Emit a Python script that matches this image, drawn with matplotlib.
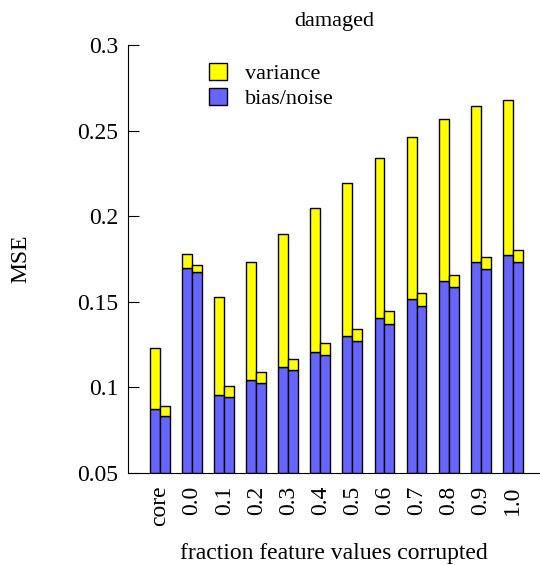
import numpy as np
import matplotlib.pyplot as plt
from matplotlib.patches import Patch

categories = ["core", "0.0", "0.1", "0.2", "0.3", "0.4", "0.5", "0.6", "0.7", "0.8", "0.9", "1.0"]

# left bar of each pair
left_bias = [0.0874, 0.170, 0.0954, 0.1041, 0.1119, 0.1208, 0.130, 0.1407, 0.1514, 0.1623, 0.173, 0.1775]
left_total = [0.1228, 0.178, 0.1528, 0.1732, 0.1896, 0.2048, 0.2192, 0.2338, 0.2464, 0.2566, 0.2645, 0.2679]
# right bar of each pair
right_bias = [0.0833, 0.1675, 0.0944, 0.1026, 0.1103, 0.1187, 0.1271, 0.137, 0.1474, 0.1584, 0.169, 0.173]
right_total = [0.0891, 0.1718, 0.1008, 0.109, 0.1168, 0.1257, 0.1339, 0.1444, 0.155, 0.1658, 0.176, 0.180]

plt.rcParams['font.family'] = ['Liberation Serif', 'DejaVu Serif']

fig = plt.figure(figsize=(5.4, 5.65), dpi=100)
ax = fig.add_axes([0.237, 0.163, 0.763, 0.757])

x = np.arange(len(categories))
w = 0.31
base = 0.05
yellow = "#ffff00"
blue = "#6666ff"

lb = np.array(left_bias)
rb = np.array(right_bias)
ax.bar(x - w / 2, lb - base, w, bottom=base, color=blue, edgecolor="black", linewidth=1)
ax.bar(x - w / 2, np.array(left_total) - lb, w, bottom=lb, color=yellow, edgecolor="black", linewidth=1)
ax.bar(x + w / 2, rb - base, w, bottom=base, color=blue, edgecolor="black", linewidth=1)
ax.bar(x + w / 2, np.array(right_total) - rb, w, bottom=rb, color=yellow, edgecolor="black", linewidth=1)

ax.set_ylim(0.05, 0.3)
ax.set_xlim(-1.0, len(categories) - 1 + 0.85)
ax.set_yticks([0.05, 0.1, 0.15, 0.2, 0.25, 0.3])
ax.set_yticklabels(["0.05", "0.1", "0.15", "0.2", "0.25", "0.3"])
ax.set_xticks(x)
ax.set_xticklabels(categories, rotation=90)

ax.spines["top"].set_visible(False)
ax.spines["right"].set_visible(False)
ax.tick_params(axis="y", direction="in", length=8, labelsize=17, pad=7)
ax.tick_params(axis="x", length=0, labelsize=17, pad=9)

ax.set_title("damaged", fontsize=16, pad=14)
ax.set_ylabel("MSE", fontsize=17, labelpad=33)
ax.set_xlabel("fraction feature values corrupted", fontsize=17, labelpad=12)

handles = [Patch(facecolor=yellow, edgecolor="black", label="variance"),
           Patch(facecolor=blue, edgecolor="black", label="bias/noise")]
ax.legend(handles=handles, loc="upper left", bbox_to_anchor=(0.148, 1.005), frameon=False,
          fontsize=16, handlelength=0.8, handleheight=0.8, labelspacing=0.15, handletextpad=0.8)

fig.savefig("out.png", dpi=100)
